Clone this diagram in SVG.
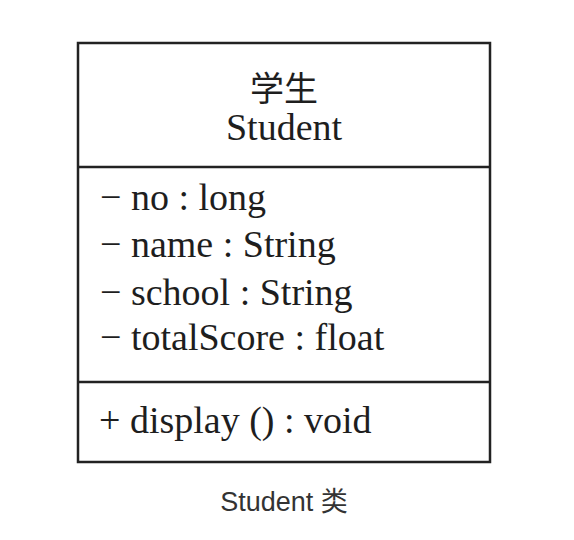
<svg xmlns="http://www.w3.org/2000/svg" width="574" height="540" viewBox="0 0 574 540">
  <style>
    .frame { fill: #ffffff; stroke: #222222; stroke-width: 2.5; }
    .sep { stroke: #222222; stroke-width: 2.5; }
    .t { font-family: "Liberation Serif", "Noto Sans CJK SC", serif; fill: #1e1e1e; }
    .cap { font-family: "Liberation Sans", "Noto Sans CJK SC", sans-serif; fill: #333333; font-size: 27px; }
  </style>
  <rect width="574" height="540" fill="#ffffff"/>
  <g id="student-class">
    <rect class="frame" x="78" y="43" width="412" height="419"/>
    <line class="sep" x1="78" y1="167" x2="490" y2="167"/>
    <line class="sep" x1="78" y1="382" x2="490" y2="382"/>
    <text class="t" x="284" y="101" font-size="34" text-anchor="middle">学生</text>
    <text class="t" x="284" y="140" font-size="38" text-anchor="middle">Student</text>
    <text class="t" x="100" y="210" font-size="38">− no : long</text>
    <text class="t" x="100" y="257" font-size="38">− name : String</text>
    <text class="t" x="100" y="305" font-size="38">− school : String</text>
    <text class="t" x="100" y="350" font-size="38">− totalScore : float</text>
    <text class="t" x="99" y="433" font-size="38">+ display () : void</text>
  </g>
  <text class="cap" x="284" y="511" text-anchor="middle">Student 类</text>
</svg>
